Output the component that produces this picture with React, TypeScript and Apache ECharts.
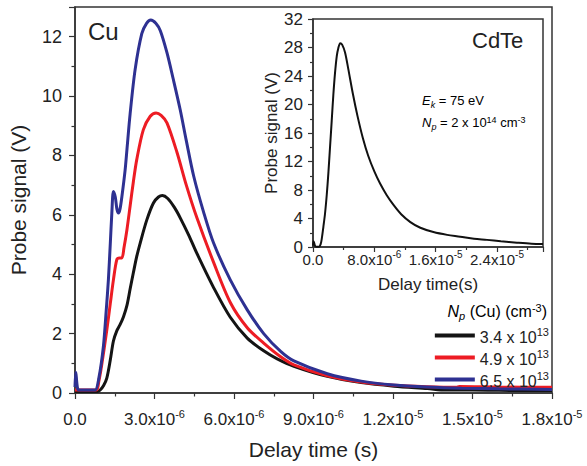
import React, { useEffect, useRef } from "react";
import * as echarts from "echarts";

// time in microseconds, signal in volts
const cu34Data: [number, number][] = [
  [0, 0.05], [0.85, 0.05], [0.95, 0.1], [1.08, 0.25], [1.2, 0.5], [1.33, 1.1], [1.45, 1.75], [1.58, 2.1],
  [1.7, 2.3], [1.83, 2.57], [1.96, 2.95], [2.08, 3.5], [2.2, 4.04], [2.33, 4.6], [2.46, 5.05], [2.71, 5.83],
  [2.96, 6.4], [3.15, 6.6], [3.3, 6.65], [3.5, 6.55], [3.75, 6.25], [3.97, 5.9], [4.3, 5.3], [4.6, 4.7],
  [5.23, 3.55], [5.86, 2.55], [6.5, 1.85], [7.12, 1.42], [7.63, 1.15], [8.26, 0.9], [9.52, 0.56], [10.8, 0.35],
  [12.04, 0.23], [13.3, 0.15], [14.0, 0.1], [15, 0.1], [16, 0.09], [18, 0.08],
];
const cu49Data: [number, number][] = [
  [0, 0.1], [0.8, 0.1], [0.9, 0.4], [1.0, 0.9], [1.2, 2.12], [1.33, 3.0], [1.45, 3.81], [1.58, 4.5],
  [1.68, 4.55], [1.77, 4.55], [1.85, 4.9], [1.96, 5.5], [2.08, 6.3], [2.2, 7.1], [2.33, 7.86], [2.58, 8.87],
  [2.84, 9.32], [3.06, 9.43], [3.25, 9.35], [3.47, 9.1], [3.85, 8.1], [4.2, 7.0], [4.6, 5.9], [5.23, 4.4],
  [5.86, 3.05], [6.5, 2.2], [7.12, 1.68], [7.76, 1.22], [8.26, 0.95], [9.52, 0.58], [10.8, 0.37], [12.04, 0.26],
  [13.3, 0.21], [14.4, 0.19], [14.5, 0.22], [16, 0.2], [18, 0.19],
];
const cu65Data: [number, number][] = [
  [0, 0.2], [0.03, 0.7], [0.1, 0.15], [0.2, 0.1], [0.6, 0.1], [0.76, 0.1], [0.9, 0.5], [1.07, 1.56],
  [1.18, 2.8], [1.26, 3.81], [1.33, 5.0], [1.39, 6.06], [1.45, 6.79], [1.52, 6.6], [1.58, 6.2], [1.64, 6.06],
  [1.7, 6.2], [1.77, 6.62], [1.89, 7.5], [1.96, 8.2], [2.08, 9.4], [2.27, 10.9], [2.52, 12.1], [2.7, 12.45],
  [2.86, 12.56], [3.05, 12.45], [3.22, 12.2], [3.47, 11.46], [3.7, 10.6], [3.97, 9.54], [4.2, 8.5], [4.48, 7.3],
  [4.85, 6.1], [5.23, 5.05], [5.86, 3.81], [6.5, 2.8], [7.12, 2.0], [7.76, 1.4], [8.26, 1.08], [9.52, 0.65],
  [10.8, 0.4], [12.04, 0.27], [13.3, 0.2], [14.6, 0.16], [16, 0.14], [18, 0.12],
];
const cdteData: [number, number][] = [
  [0, 0.2], [0.08, 0.8], [0.25, 0.2], [0.4, 0.05], [0.8, 0.05], [1.0, 0.4], [1.15, 1.2], [1.35, 2.8],
  [1.57, 4.7], [1.8, 7.4], [2.0, 10.3], [2.22, 14.0], [2.44, 17.7], [2.65, 21.3], [2.87, 24.4], [3.1, 26.8],
  [3.3, 27.9], [3.55, 28.6], [3.8, 28.4], [4.18, 27.3], [4.6, 25.0], [5.2, 21.5], [5.8, 18.4], [6.5, 15.3],
  [7.2, 12.8], [8.0, 10.6], [8.75, 8.9], [9.6, 7.3], [10.5, 5.9], [11.5, 4.6], [12.7, 3.5], [14.0, 2.7],
  [15.7, 2.1], [17.5, 1.7], [19.2, 1.45], [21, 1.15], [22.7, 1.0], [24.5, 0.8], [26.6, 0.6], [28.5, 0.45],
  [30, 0.42],
];
const seriesNames = ["3.4 x 10^13", "4.9 x 10^13", "6.5 x 10^13"];
const seriesColors = ["#141414", "#ed1c24", "#2e3192"];

const FONT = "Liberation Sans, Arial, sans-serif";
const TXT = "#222";

const tok = (size: number, extra: Record<string, unknown> = {}) => ({
  fontSize: size, fontFamily: FONT, color: TXT, verticalAlign: "top", ...extra,
});

// base text pushed down by `pad`, superscript stays at the top of the line
const supRich = (size: number, supSize: number, pad: number) => ({
  t: tok(size, { padding: [pad, 0, 0, 0] }),
  s: tok(supSize),
});

const sciLabel = (v: number) => {
  if (v === 0) return "{t|0.0}";
  if (v < 10) return `{t|${v.toFixed(1)}x10}{s|-6}`;
  return `{t|${(v / 10).toFixed(1)}x10}{s|-5}`;
};

const annoRich = (size: number, small: number, subPad: number, basePad: number) => ({
  i: tok(size, { fontStyle: "italic", padding: [basePad, 0, 0, 0] }),
  r: tok(size, { padding: [basePad, 0, 0, 0] }),
  sub: tok(small, { fontStyle: "italic", padding: [subPad, 0, 0, 0] }),
  sp: tok(small),
});

export default function App() {
  const ref = useRef<HTMLDivElement>(null);
  useEffect(() => {
    if (!ref.current) return;
    const chart = echarts.init(ref.current, undefined, { renderer: "svg" });
    const axisLine = { show: true, lineStyle: { color: "#333", width: 1.5 } };
    const tick = { show: true, inside: false, length: 6, lineStyle: { color: "#333", width: 1.2 } };
    const minor = { show: true, splitNumber: 2, length: 3.5, lineStyle: { color: "#333", width: 1.2 } };
    chart.setOption({
      animation: false,
      backgroundColor: "#fff",
      grid: [
        { left: 75, right: 35, top: 7, bottom: 73, show: true, borderColor: "#333", borderWidth: 1.5 },
        { left: 313, right: 44, top: 19, bottom: 219, show: true, borderColor: "#333", borderWidth: 1.5 },
      ],
      xAxis: [
        {
          type: "value", gridIndex: 0, min: 0, max: 18, interval: 3,
          name: "Delay time (s)", nameLocation: "middle", nameGap: 46,
          nameTextStyle: { fontSize: 21, fontFamily: FONT, color: TXT },
          axisLine, axisTick: tick, minorTick: minor, splitLine: { show: false },
          axisLabel: { margin: 15, formatter: sciLabel, rich: supRich(17, 11, 3) },
        },
        {
          type: "value", gridIndex: 1, min: 0, max: 30, interval: 8,
          name: "Delay time(s)", nameLocation: "middle", nameGap: 29,
          nameTextStyle: { fontSize: 17, fontFamily: FONT, color: TXT },
          axisLine, axisTick: { ...tick, length: 5 }, minorTick: { ...minor, length: 3 }, splitLine: { show: false },
          axisLabel: { margin: 2, showMaxLabel: false, formatter: sciLabel, rich: supRich(15, 10, 3) },
        },
      ],
      yAxis: [
        {
          type: "value", gridIndex: 0, min: 0, max: 13, interval: 2,
          name: "Probe signal (V)", nameLocation: "middle", nameGap: 46,
          nameTextStyle: { fontSize: 21, fontFamily: FONT, color: TXT },
          axisLine, axisTick: tick, minorTick: minor, splitLine: { show: false },
          axisLabel: { margin: 13, showMaxLabel: false, fontSize: 18, fontFamily: FONT, color: TXT },
        },
        {
          type: "value", gridIndex: 1, min: 0, max: 32, interval: 4,
          name: "Probe signal (V)", nameLocation: "middle", nameGap: 31,
          nameTextStyle: { fontSize: 17, fontFamily: FONT, color: TXT },
          axisLine, axisTick: { ...tick, length: 5 }, minorTick: { ...minor, length: 3 }, splitLine: { show: false },
          axisLabel: { margin: 10, fontSize: 17, fontFamily: FONT, color: TXT },
        },
      ],
      legend: {
        data: seriesNames,
        orient: "vertical",
        right: 38,
        top: 326,
        padding: 0,
        itemGap: 3,
        itemWidth: 40,
        itemHeight: 4,
        icon: "rect",
        formatter: (name: string) => {
          const [b, e] = name.split("^");
          return `{t|${b}}{s|${e}}`;
        },
        textStyle: { rich: supRich(16, 11, 3) },
      },
      graphic: [
        { type: "text", left: 88, top: 19, style: { text: "Cu", font: `24px ${FONT}`, fill: TXT } },
        { type: "text", left: 472, top: 29, style: { text: "CdTe", font: `22px ${FONT}`, fill: TXT } },
        {
          type: "text", left: 422, top: 94,
          style: { text: "{i|E}{sub|k}{r| = 75 eV}", rich: annoRich(13, 9, 7, 1) },
        },
        {
          type: "text", left: 422, top: 115,
          style: { text: "{i|N}{sub|p}{r| = 2 x 10}{sp|14}{r| cm}{sp|-3}", rich: annoRich(13, 9, 7, 1) },
        },
        {
          type: "text", right: 40, top: 302,
          style: { text: "{i|N}{sub|p}{r| (Cu) (cm}{sp|-3}{r|)}", rich: annoRich(16, 11, 8, 1) },
        },
      ],
      series: [
        ...[cu34Data, cu49Data, cu65Data].map((d, i) => ({
          type: "line", name: seriesNames[i], xAxisIndex: 0, yAxisIndex: 0, data: d,
          showSymbol: false, symbol: "none", smooth: 0.3,
          lineStyle: { color: seriesColors[i], width: 3 }, itemStyle: { color: seriesColors[i] },
        })),
        {
          type: "line", name: "CdTe", xAxisIndex: 1, yAxisIndex: 1, data: cdteData,
          showSymbol: false, symbol: "none", smooth: 0.3,
          lineStyle: { color: "#111", width: 2 }, itemStyle: { color: "#111" },
        },
      ],
    });
    return () => chart.dispose();
  }, []);
  return <div ref={ref} style={{ width: 587, height: 466, position: "absolute", left: 0, top: 0 }} />;
}
